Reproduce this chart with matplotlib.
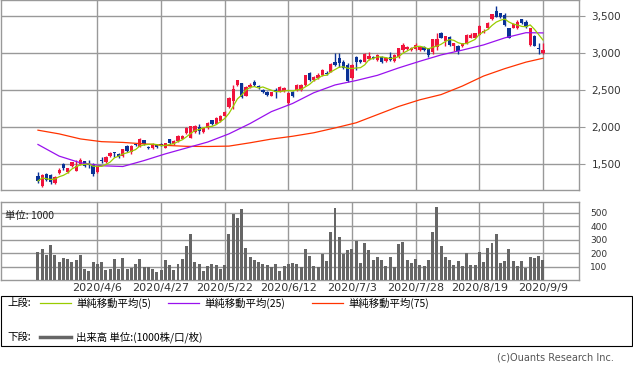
import numpy as np
import pandas as pd
import matplotlib
matplotlib.use("Agg")
import matplotlib.pyplot as plt
from matplotlib.lines import Line2D
from matplotlib.patches import Rectangle

# daily candles, 2020/3/16 .. 2020/9/9 (index 0..119)
opens = [1338, 1213, 1365, 1352, 1250, 1383, 1510, 1392, 1483, 1415,
         1500, 1540, 1490, 1510, 1395, 1560, 1530, 1610, 1655, 1640,
         1610, 1750, 1660, 1775, 1735, 1825, 1725, 1725, 1757, 1775,
         1725, 1835, 1770, 1815, 1845, 1925, 1860, 1935, 2005, 1935,
         1990, 2095, 2050, 2085, 2150, 2275, 2360, 2570, 2590, 2425,
         2540, 2610, 2550, 2500, 2480, 2425, 2500, 2480, 2490, 2320,
         2480, 2500, 2505, 2565, 2735, 2635, 2660, 2700, 2730, 2750,
         2880, 2930, 2880, 2840, 2660, 2950, 2900, 2885, 2915, 2945,
         2905, 2950, 2890, 2950, 2890, 2950, 3040, 3050, 3040, 3050,
         3040, 3085, 3065, 3010, 3085, 3265, 3165, 3220, 3095, 3100,
         3095, 3130, 3210, 3210, 3250, 3280, 3335, 3460, 3570, 3535,
         3510, 3335, 3345, 3335, 3455, 3420, 3105, 3230, 3070, 2995]
closes = [1275, 1356, 1285, 1262, 1330, 1429, 1450, 1446, 1528, 1483,
          1555, 1478, 1485, 1365, 1483, 1550, 1600, 1650, 1650, 1595,
          1700, 1680, 1750, 1765, 1840, 1770, 1720, 1770, 1727, 1765,
          1785, 1790, 1815, 1880, 1880, 1990, 2015, 2015, 1950, 1990,
          2060, 2040, 2130, 2155, 2200, 2400, 2520, 2635, 2410, 2545,
          2575, 2575, 2540, 2480, 2430, 2470, 2480, 2540, 2525, 2465,
          2425, 2565, 2565, 2700, 2635, 2680, 2700, 2770, 2720, 2855,
          2845, 2860, 2795, 2620, 2840, 2880, 2880, 2985, 2965, 2935,
          2975, 2880, 2935, 2905, 2975, 3065, 3110, 3085, 3070, 3110,
          3085, 3040, 2975, 3185, 3185, 3210, 3225, 3110, 3130, 3025,
          3130, 3250, 3250, 3265, 3365, 3300, 3410, 3525, 3490, 3490,
          3380, 3210, 3390, 3420, 3400, 3355, 3335, 3095, 3060, 3040]
highs = [1395, 1365, 1385, 1370, 1345, 1450, 1515, 1455, 1535, 1560,
         1590, 1545, 1555, 1520, 1490, 1595, 1610, 1660, 1660, 1650,
         1710, 1760, 1760, 1790, 1850, 1830, 1740, 1790, 1770, 1785,
         1790, 1845, 1825, 1890, 1890, 2005, 2020, 2025, 2040, 2000,
         2070, 2100, 2140, 2165, 2215, 2410, 2570, 2640, 2600, 2555,
         2590, 2635, 2565, 2515, 2490, 2480, 2530, 2560, 2540, 2475,
         2490, 2580, 2585, 2710, 2745, 2690, 2730, 2780, 2760, 2870,
         3000, 3000, 2900, 2860, 2850, 2965, 2920, 2995, 3010, 2955,
         2990, 2960, 2950, 3010, 2985, 3075, 3135, 3095, 3080, 3130,
         3095, 3095, 3070, 3195, 3265, 3290, 3235, 3230, 3135, 3110,
         3140, 3260, 3265, 3275, 3380, 3330, 3420, 3530, 3640, 3540,
         3540, 3340, 3400, 3440, 3460, 3440, 3345, 3240, 3130, 3135]
lows = [1250, 1200, 1270, 1230, 1240, 1370, 1420, 1380, 1470, 1405,
        1490, 1470, 1446, 1340, 1380, 1514, 1520, 1600, 1600, 1590,
        1600, 1665, 1640, 1740, 1730, 1760, 1700, 1705, 1715, 1740,
        1720, 1780, 1765, 1805, 1840, 1915, 1850, 1925, 1915, 1925,
        1980, 2030, 2040, 2075, 2140, 2265, 2250, 2560, 2400, 2415,
        2530, 2555, 2515, 2465, 2420, 2415, 2400, 2470, 2480, 2300,
        2410, 2490, 2495, 2555, 2620, 2625, 2650, 2690, 2700, 2740,
        2830, 2815, 2780, 2610, 2650, 2770, 2860, 2875, 2900, 2915,
        2895, 2870, 2880, 2890, 2880, 2940, 3015, 3040, 3030, 3040,
        3030, 3030, 2950, 2990, 3040, 3200, 3100, 3095, 3030, 2990,
        3085, 3120, 3200, 3200, 3240, 3265, 3320, 3440, 3480, 3470,
        3370, 3200, 3340, 3330, 3390, 3340, 3100, 3090, 2990, 2990]
volume = [209, 229, 187, 261, 187, 137, 162, 155, 137, 150,
          187, 83, 69, 137, 120, 130, 75, 85, 158, 83,
          165, 83, 88, 120, 158, 95, 95, 80, 61, 75,
          150, 112, 75, 120, 158, 253, 342, 135, 120, 69,
          105, 118, 112, 83, 112, 342, 490, 458, 527, 236,
          170, 150, 135, 120, 108, 98, 120, 66, 105, 120,
          128, 120, 98, 229, 179, 105, 93, 194, 142, 357,
          535, 318, 194, 221, 231, 290, 127, 275, 224, 150,
          172, 150, 105, 172, 93, 268, 283, 150, 127, 157,
          113, 105, 150, 357, 542, 253, 172, 150, 113, 142,
          105, 201, 113, 113, 209, 135, 238, 275, 342, 127,
          142, 231, 142, 105, 142, 90, 172, 165, 179, 150]

# moving averages (every 5th session + last)
ma_idx = list(range(0, 120, 5)) + [119]
ma25 = [1767, 1610, 1520, 1480, 1470, 1550, 1640, 1720, 1800, 1910,
        2050, 2210, 2320, 2465, 2570, 2630, 2700, 2800, 2890, 2975,
        3040, 3110, 3205, 3275, 3272]
ma75 = [1960, 1910, 1842, 1805, 1795, 1775, 1755, 1742, 1740, 1745,
        1790, 1840, 1878, 1925, 1990, 2060, 2170, 2280, 2370, 2440,
        2555, 2690, 2790, 2878, 2930]

date_ticks = [14, 29, 44, 59, 74, 89, 104, 119]
date_labels = ["2020/4/6", "2020/4/27", "2020/5/22", "2020/6/12",
               "2020/7/3", "2020/7/28", "2020/8/19", "2020/9/9"]

UP = "#f0143c"
DOWN = "#0a3296"
GRID = "#999999"
JP = ["Noto Sans CJK JP", "DejaVu Sans"]

plt.rcParams["font.family"] = ["DejaVu Sans", "Noto Sans CJK JP"]

W, H = 633, 373
fig = plt.figure(figsize=(W / 100, H / 100), dpi=100)

def fx(px):
    return px / W

def fy(py):
    return 1 - py / H

x = np.arange(len(closes))
o = np.array(opens)
c = np.array(closes)
colors = [UP if cc >= oo else DOWN for oo, cc in zip(o, c)]
ma5 = pd.Series(c).rolling(5, min_periods=1).mean()

# price panel
ax = fig.add_axes([fx(0.5), fy(190), fx(578.5), 190 / H])
ax.set_xlim(-8.83, 127.5)
ax.set_ylim(1153, 3716)
ax.vlines(x, lows, highs, colors=colors, linewidth=1.0, zorder=3)
body = np.maximum(np.abs(c - o), 14)
ax.bar(x, body, bottom=np.minimum(o, c), width=0.78, color=colors, linewidth=0, zorder=3)
ax.plot(ma_idx, ma75, color="#ff3300", linewidth=0.9, zorder=4)
ax.plot(ma_idx, ma25, color="#9911ee", linewidth=0.9, zorder=4)
ax.plot(x, ma5, color="#99cc00", linewidth=0.9, zorder=4)
ax.set_yticks([1500, 2000, 2500, 3000, 3500])
ax.set_yticklabels(["1,500", "2,000", "2,500", "3,000", "3,500"])
ax.set_xticks(date_ticks)
ax.set_xticklabels([])
ax.yaxis.tick_right()
ax.tick_params(axis="y", length=4, color=GRID, labelsize=7.5, labelcolor="#333333", pad=5)
ax.tick_params(axis="x", length=0)
ax.grid(color=GRID, linewidth=1.0)
ax.set_axisbelow(True)
for s in ax.spines.values():
    s.set_color(GRID)
    s.set_linewidth(1.0)

# volume panel
axv = fig.add_axes([fx(0.5), fy(280), fx(578.5), 78 / H])
axv.set_xlim(-8.83, 127.5)
axv.set_ylim(0, 579)
axv.bar(x, volume, width=0.7, color="#666666", linewidth=0, zorder=3)
axv.set_yticks([100, 200, 300, 400, 500])
axv.set_xticks(date_ticks)
axv.set_xticklabels(date_labels)
axv.yaxis.tick_right()
axv.tick_params(axis="y", length=0, labelsize=6.5, labelcolor="#333333", pad=8)
axv.tick_params(axis="x", length=0, labelsize=8, labelcolor="#333333", pad=2)
axv.grid(color=GRID, linewidth=1.0)
axv.set_axisbelow(True)
for s in axv.spines.values():
    s.set_color(GRID)
    s.set_linewidth(1.0)
axv.text(0.008, 0.82, "単位: 1000", transform=axv.transAxes, fontsize=7.5,
         family=JP, color="#222222", va="center", ha="left", zorder=5)

# legend box
fig.add_artist(Rectangle((fx(0.5), fy(346)), fx(631.5), 50.5 / H, transform=fig.transFigure,
                         fill=False, edgecolor="black", linewidth=0.8))
fig.text(fx(7), fy(303), "上段:", fontsize=7.5, family=JP, va="center", ha="left")
fig.text(fx(7), fy(337), "下段:", fontsize=7.5, family=JP, va="center", ha="left")
legend_items = [(40, "#99cc00", "単純移動平均(5)"),
                (168, "#9911ee", "単純移動平均(25)"),
                (312, "#ff3300", "単純移動平均(75)")]
for x0, col, label in legend_items:
    fig.add_artist(Line2D([fx(x0), fx(x0 + 31)], [fy(303), fy(303)], color=col,
                          linewidth=0.9, transform=fig.transFigure))
    fig.text(fx(x0 + 36), fy(303), label, fontsize=7.5, family=JP, va="center", ha="left")
fig.add_artist(Line2D([fx(40), fx(71)], [fy(337), fy(337)], color="#666666",
                      linewidth=2.5, transform=fig.transFigure))
fig.text(fx(76), fy(337), "出来高 単位:(1000株/口/枚)", fontsize=7.5, family=JP,
         va="center", ha="left")

fig.text(fx(614), fy(357), "(c)Ouants Research Inc.", fontsize=7, color="#555555",
         va="center", ha="right")

fig.savefig("out.png", dpi=100)
